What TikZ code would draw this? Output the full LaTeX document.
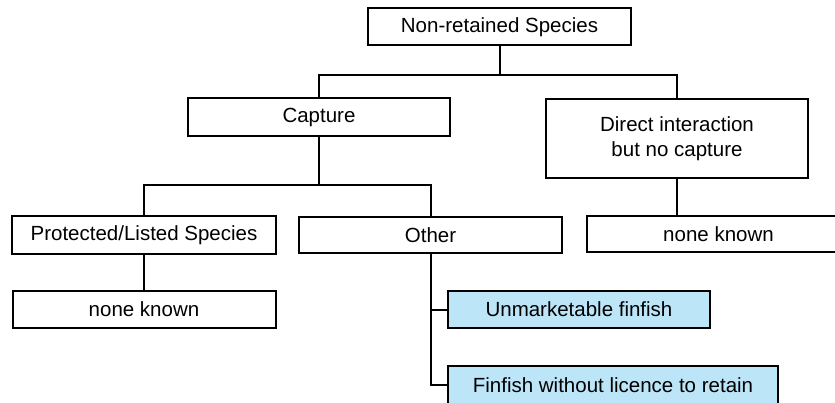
\documentclass[tikz,border=0pt]{standalone}
\usepackage{fontspec}
\setmainfont{Liberation Sans}
\definecolor{paleblue}{RGB}{189,229,248}
\begin{document}
\begin{tikzpicture}[x=1pt,y=-1pt,
  box/.style={draw=black, line width=2pt, fill=white, inner sep=0pt,
    minimum width=263pt, minimum height=37pt, align=center,
    font=\fontsize{20.5}{25}\selectfont},
  leaf/.style={box, fill=paleblue},
  link/.style={line width=2pt}]
\useasboundingbox (0,0) rectangle (835,403);
\clip (0,0) rectangle (835,403);
\fill[white] (0,0) rectangle (835,403);

% tree nodes
\node[box] (root) at (499.5,27) {Non-retained Species};
\node[box, minimum width=262pt, minimum height=38pt] (capture) at (319,117) {Capture};
\node[box, minimum width=262pt, minimum height=79pt] (direct) at (677,138.5) {Direct interaction\\but no capture};
\node[box, minimum width=264pt, minimum height=38pt] (protected) at (144,235) {Protected/Listed Species};
\node[box, minimum height=36pt] (other) at (430.5,235) {Other};
\node[box] (noneL) at (144,309.5) {none known};
\node[box, minimum height=36pt] (noneR) at (718.5,234.5) {none known};
\node[leaf, minimum width=262pt] (unmarket) at (579,309.5) {Unmarketable finfish};
\node[leaf, minimum width=330pt, minimum height=38pt] (nolicence) at (613,385) {Finfish without licence to retain};

% junction points of the branches
\coordinate (j1) at (499.5,75);
\coordinate (j2) at (319,185);

% connectors
\draw[link] (root.south) -- (j1);
\draw[link] (capture.north) |- (j1) -| (direct.north);
\draw[link] (capture.south) -- (j2);
\draw[link] (protected.north) |- (j2) -| (other.north);
\draw[link] (protected.south) -- (noneL.north);
\draw[link] (direct.south) -- (direct.south |- noneR.north);
\draw[link] (other.south) |- (unmarket.west);
\draw[link] (other.south) |- (nolicence.west);
\end{tikzpicture}
\end{document}
